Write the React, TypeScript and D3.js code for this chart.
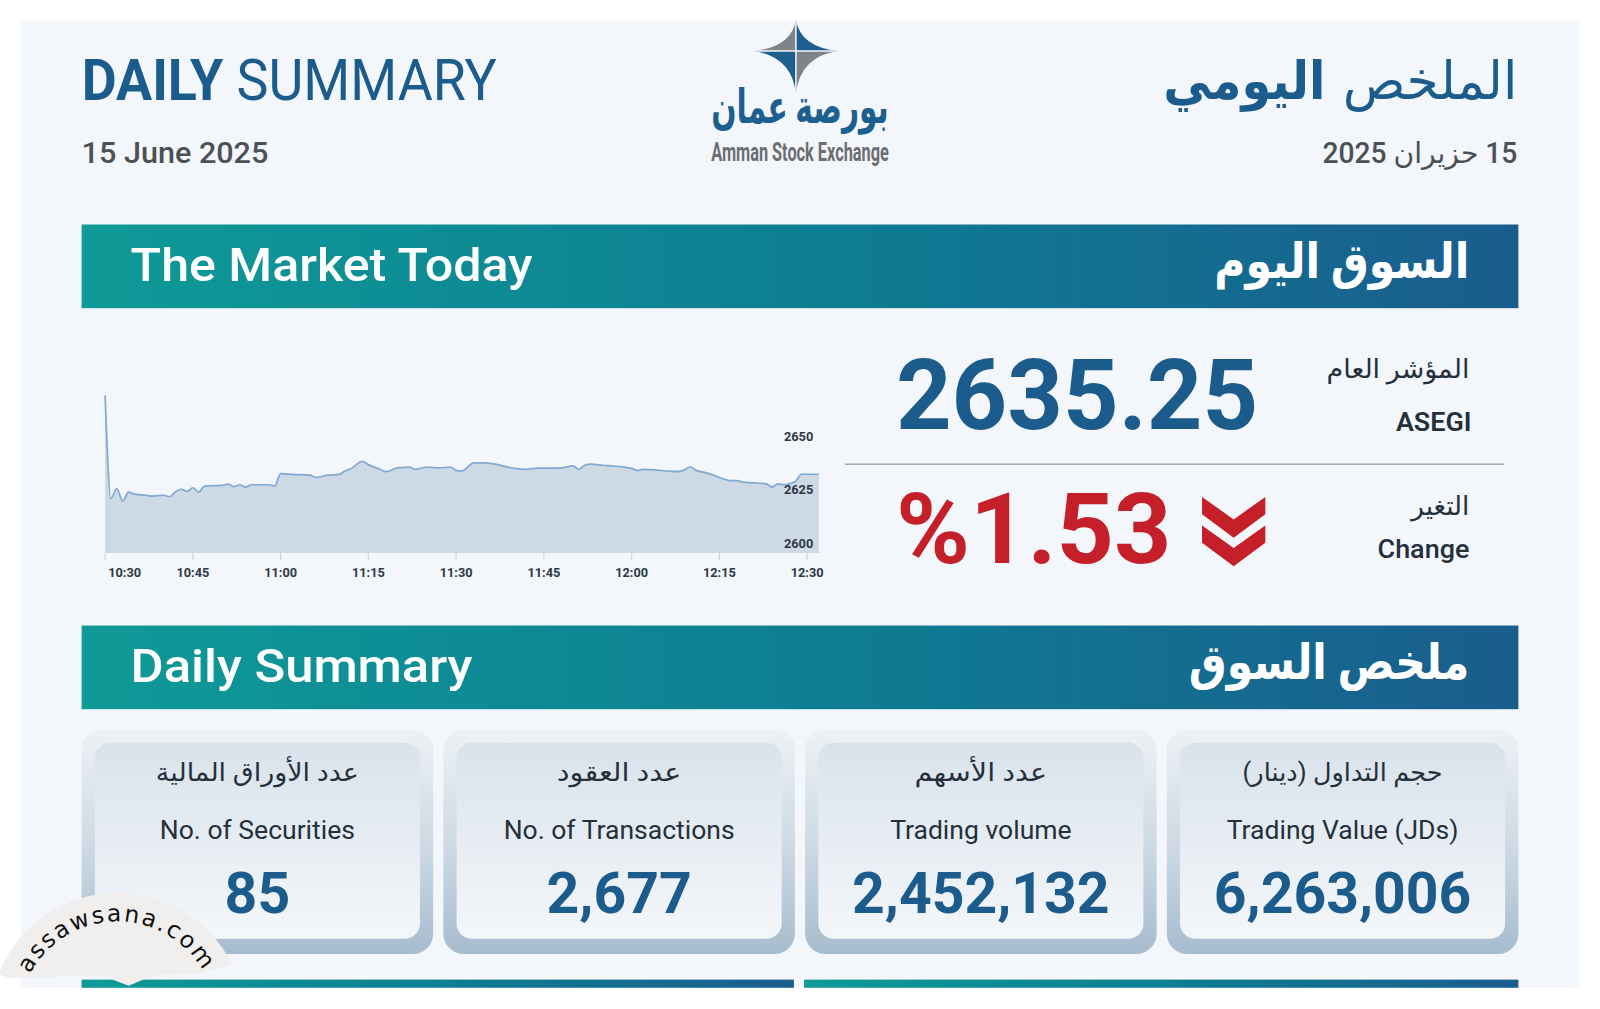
import * as d3 from "d3";

// intraday ASEGI readings (time, index level)
const times = ["10:30","10:31","10:32","10:33","10:34","10:35","10:37","10:38","10:40","10:41","10:42","10:43","10:44","10:45","10:46","10:47","10:50","10:51","10:52","10:53","10:54","10:55","10:58","10:59",
  "11:00","11:02","11:05","11:06","11:08","11:10","11:11","11:12","11:14","11:15","11:17","11:18","11:20","11:22","11:23","11:25","11:27","11:29","11:30","11:31","11:33","11:35","11:36","11:38","11:40","11:42","11:44","11:46","11:48","11:50","11:51","11:52","11:53","11:55","11:57","11:59",
  "12:00","12:01","12:02","12:04","12:06","12:08","12:09","12:10","12:11","12:12","12:14","12:15","12:17","12:18","12:19","12:21","12:23","12:24","12:25","12:26","12:28","12:29","12:32"];
const values = [2669.3, 2621.2, 2625.8, 2620.0, 2624.2, 2623.2, 2622.7, 2622.3, 2622.7, 2622.0, 2624.2, 2625.5, 2624.5, 2626.2, 2624.2, 2627.0, 2627.3, 2627.9, 2626.7, 2627.6, 2626.5, 2627.6, 2627.6, 2627.0,
  2632.8, 2632.4, 2632.1, 2631.0, 2632.1, 2632.4, 2634.0, 2635.1, 2638.5, 2637.0, 2634.8, 2633.7, 2635.5, 2635.8, 2634.8, 2635.8, 2635.5, 2635.8, 2634.3, 2634.0, 2637.8, 2637.8, 2637.5, 2636.4, 2635.2, 2634.8, 2635.4, 2635.4, 2635.5, 2636.4, 2634.8, 2636.7, 2637.2, 2636.7, 2636.3, 2635.7,
  2635.2, 2634.3, 2634.8, 2634.5, 2634.0, 2633.7, 2634.5, 2636.0, 2634.3, 2633.6, 2632.1, 2631.0, 2629.5, 2629.5, 2628.8, 2628.5, 2628.0, 2626.5, 2628.0, 2627.6, 2629.1, 2632.5, 2632.5];

const tickTimes = ["10:30","10:45","11:00","11:15","11:30","11:45","12:00","12:15","12:30"];
const yTicks = [2600, 2625, 2650];

const statLabelsAr = ["عدد الأوراق المالية", "عدد العقود", "عدد الأسهم", "حجم التداول (دينار)"];
const statLabelsEn = ["No. of Securities", "No. of Transactions", "Trading volume", "Trading Value (JDs)"];
const statValues = [85, 2677, 2452132, 6263006];

const indexValue = 2635.25;
const changePct = 1.53;

const FONT = "Roboto, 'DejaVu Sans', sans-serif";
const BLUE = "#1b5c8c";
const RED = "#c51f2a";
const DARK = "#24303c";
const GRAY = "#4b5057";

// layout is measured on a 1568-wide frame, the viewBox stretches it to 1600
const VW = 1568;
const VH = 988.8;

const parseTime = d3.timeParse("%H:%M");

// text squeezed into a measured span, DIN is narrower than anything installed
function Txt({ x1, x2, y, size, weight = 400, fill, rtl = false, children }: any) {
  return (
    <text
      x={(x1 + x2) / 2}
      y={y}
      textAnchor="middle"
      textLength={x2 - x1}
      lengthAdjust="spacingAndGlyphs"
      fontSize={size}
      fontWeight={weight}
      fill={fill}
      direction={rtl ? "rtl" : undefined}
    >
      {children}
    </text>
  );
}

function Banner({ y, en, ar, enSpan, arSpan }: any) {
  return (
    <g>
      <rect x={80} y={y} width={1408} height={82} fill="url(#bannerGrad)" />
      <Txt x1={enSpan[0]} x2={enSpan[1]} y={y + 55} size={46} weight={500} fill="#fff">{en}</Txt>
      <Txt x1={arSpan[0]} x2={arSpan[1]} y={y + 52} size={48} weight={700} fill="#fff" rtl>{ar}</Txt>
    </g>
  );
}

function IndexChart() {
  const data = times.map((t, i) => ({ t: parseTime(t)!, v: values[i] }));
  const x = d3.scaleTime()
    .domain([parseTime("10:30")!, parseTime("12:30")!])
    .range([103, 791]);
  const y = d3.scaleLinear().domain([2600, 2650]).range([533, 428]);
  const bottom = 542;

  const area = d3.area<{ t: Date; v: number }>()
    .x((d) => x(d.t))
    .y0(bottom)
    .y1((d) => y(d.v))
    .curve(d3.curveMonotoneX);
  const line = d3.line<{ t: Date; v: number }>()
    .x((d) => x(d.t))
    .y((d) => y(d.v))
    .curve(d3.curveMonotoneX);

  return (
    <g fontFamily={FONT}>
      <path d={area(data)!} fill="#cddae6" />
      <path d={line(data)!} fill="none" stroke="#82a9d3" strokeWidth={1.7} />
      {tickTimes.map((t, i) => {
        const px = x(parseTime(t)!);
        return (
          <g key={t}>
            <line x1={px} x2={px} y1={bottom} y2={bottom + 7} stroke="#c8d2dc" strokeWidth={1} />
            <text
              x={i === 0 ? px + 3 : px}
              y={bottom + 23}
              textAnchor={i === 0 ? "start" : "middle"}
              fontSize={12.5}
              fontWeight={700}
              fill="#2d3844"
            >
              {t}
            </text>
          </g>
        );
      })}
      {yTicks.map((v) => (
        <text key={v} x={797} y={y(v) + 4} textAnchor="end" fontSize={12.5} fontWeight={700} fill="#2d3844">
          {v}
        </text>
      ))}
    </g>
  );
}

function Logo() {
  const cx = 780;
  const cy = 50;
  const quad = (tip1: [number, number], ctrl: [number, number], tip2: [number, number]) =>
    `M${cx},${cy} L${tip1[0]},${tip1[1]} Q${ctrl[0]},${ctrl[1]} ${tip2[0]},${tip2[1]} Z`;
  return (
    <g>
      <path d={quad([cx, 19], [cx - 4, cy - 4], [cx - 42, cy])} fill="#808388" />
      <path d={quad([cx, 19], [cx + 4, cy - 4], [cx + 42, cy])} fill="#1d5f8f" />
      <path d={quad([cx - 42, cy], [cx - 4, cy + 5], [cx, 92])} fill="#1d5f8f" />
      <path d={quad([cx + 42, cy], [cx + 4, cy + 5], [cx, 92])} fill="#808388" />
      <line x1={cx - 42} x2={cx + 42} y1={cy} y2={cy} stroke="#f3f6fa" strokeWidth={1.5} />
      <line x1={cx} x2={cx} y1={19} y2={92} stroke="#f3f6fa" strokeWidth={1.5} />
      <Txt x1={697} x2={871} y={121} size={46} weight={700} fill="#1d5f8f" rtl>بورصة عمان</Txt>
      <Txt x1={697} x2={871} y={158} size={26} weight={700} fill="#6b6e73">Amman Stock Exchange</Txt>
    </g>
  );
}

function StatCards() {
  const gap = 10;
  const step = (1408 + gap) / statValues.length;
  const band = d3.scaleBand<number>()
    .domain(d3.range(statValues.length))
    .range([80, 1488])
    .paddingInner(gap / step)
    .paddingOuter(0);
  const fmt = d3.format(",");
  const arWidths = [199, 122, 130, 196];
  return (
    <g fontFamily={FONT}>
      {statValues.map((v, i) => {
        const x0 = band(i)!;
        const w = band.bandwidth();
        const cx = x0 + w / 2;
        return (
          <g key={i}>
            <rect x={x0} y={715} width={w} height={220} rx={20} fill="url(#cardOuter)" />
            <rect x={x0 + 13} y={728} width={w - 26} height={192} rx={15} fill="url(#cardInner)" />
            <Txt x1={cx - arWidths[i] / 2} x2={cx + arWidths[i] / 2} y={765} size={25} weight={400} fill={DARK} rtl>
              {statLabelsAr[i]}
            </Txt>
            <text x={cx} y={822} textAnchor="middle" fontSize={26} fontWeight={400} fill={DARK}>
              {statLabelsEn[i]}
            </text>
            <text x={cx} y={895} textAnchor="middle" fontSize={56} fontWeight={700} fill={BLUE}>
              {fmt(v)}
            </text>
          </g>
        );
      })}
    </g>
  );
}

function Watermark() {
  const cx = 115;
  const cy = 1000;
  const R = 125;
  const pt = (a: number, r: number) => [cx + r * Math.sin(a), cy - r * Math.cos(a)];
  const [lx, ly] = pt(-1.2, R);
  const [rx, ry] = pt(1.12, R);
  const band = `M${lx},${ly} A${R},${R} 0 0 1 ${rx},${ry} L${rx - 30},${ry + 8} L150,956 L126,966 L100,956 L${lx + 10},${ly + 4} Z`;
  const r = 97;
  const [ax0, ay0] = pt(-1.12, r);
  const [ax1, ay1] = pt(1.1, r);
  const arcPath = `M${ax0},${ay0} A${r},${r} 0 0 1 ${ax1},${ay1}`;
  return (
    <g>
      <path d={band} fill="#f1efee" />
      <path id="wmArc" d={arcPath} fill="none" />
      <text fontFamily="'DejaVu Sans', sans-serif" fontSize={23} letterSpacing={2} fill="#111">
        <textPath href="#wmArc" startOffset="50%" textAnchor="middle">assawsana.com</textPath>
      </text>
    </g>
  );
}

export default function App() {
  const chevron = (top: number) =>
    `M1178,${top} L1209,${top + 22} L1240,${top} L1240,${top + 17} L1209,${top + 40} L1178,${top + 17} Z`;
  return (
    <svg
      width={1600}
      height={1009}
      viewBox={`0 0 ${VW} ${VH}`}
      style={{ position: "absolute", left: 0, top: 0, background: "#fff" }}
      fontFamily={FONT}
    >
      <defs>
        <linearGradient id="bannerGrad" x1="0" x2="1" y1="0" y2="0">
          <stop offset="0" stopColor="#0f9a97" />
          <stop offset="0.5" stopColor="#0d7f93" />
          <stop offset="1" stopColor="#1a5d8d" />
        </linearGradient>
        <linearGradient id="cardOuter" x1="0" x2="0" y1="0" y2="1">
          <stop offset="0" stopColor="#edf1f5" />
          <stop offset="0.55" stopColor="#cbd8e3" />
          <stop offset="1" stopColor="#a6bccf" />
        </linearGradient>
        <linearGradient id="cardInner" x1="0" x2="0" y1="0" y2="1">
          <stop offset="0" stopColor="#d9e2eb" />
          <stop offset="1" stopColor="#f4f7fa" />
        </linearGradient>
      </defs>

      <rect x={20} y={20} width={1528} height={948} fill="#f3f6fa" />

      {/* header */}
      <text
        x={283.5}
        y={98}
        textAnchor="middle"
        textLength={407}
        lengthAdjust="spacingAndGlyphs"
        fontSize={56}
        fill={BLUE}
      >
        <tspan fontWeight={700}>DAILY</tspan>
        <tspan fontWeight={400}> SUMMARY</tspan>
      </text>
      <Txt x1={80} x2={263} y={160} size={28} weight={500} fill={GRAY}>15 June 2025</Txt>
      <Txt x1={1316} x2={1487} y={97} size={52} weight={400} fill={BLUE} rtl>الملخص</Txt>
      <Txt x1={1140} x2={1299} y={97} size={52} weight={700} fill={BLUE} rtl>اليومي</Txt>
      <Txt x1={1296} x2={1487} y={160} size={28} weight={500} fill={GRAY} rtl>15 حزيران 2025</Txt>
      <Logo />

      <Banner y={220} en="The Market Today" ar="السوق اليوم" enSpan={[128, 522]} arSpan={[1190, 1440]} />

      <IndexChart />

      {/* index and change */}
      <text x={878} y={420} fontSize={96} fontWeight={700} fill={BLUE} textLength={355} lengthAdjust="spacingAndGlyphs">
        {indexValue.toFixed(2)}
      </text>
      <Txt x1={1300} x2={1440} y={370} size={26} weight={500} fill={DARK} rtl>المؤشر العام</Txt>
      <Txt x1={1368} x2={1442} y={422} size={25} weight={600} fill={DARK}>ASEGI</Txt>
      <line x1={828} x2={1474} y1={455} y2={455} stroke="#a3a8ad" strokeWidth={1.5} />
      <text x={878} y={552} fontSize={96} fontWeight={700} fill={RED} textLength={270} lengthAdjust="spacingAndGlyphs">
        {"%" + changePct.toFixed(2)}
      </text>
      <path d={chevron(487)} fill={RED} />
      <path d={chevron(515)} fill={RED} />
      <Txt x1={1383} x2={1440} y={505} size={26} weight={500} fill={DARK} rtl>التغير</Txt>
      <Txt x1={1350} x2={1440} y={547} size={26} weight={500} fill={DARK}>Change</Txt>

      <Banner y={613} en="Daily Summary" ar="ملخص السوق" enSpan={[128, 463]} arSpan={[1165, 1440]} />

      <StatCards />

      {/* next section's bars, cut off by the page edge */}
      <rect x={80} y={960} width={698} height={8} fill="url(#bannerGrad)" />
      <rect x={788} y={960} width={700} height={8} fill="url(#bannerGrad)" />

      <Watermark />
    </svg>
  );
}
